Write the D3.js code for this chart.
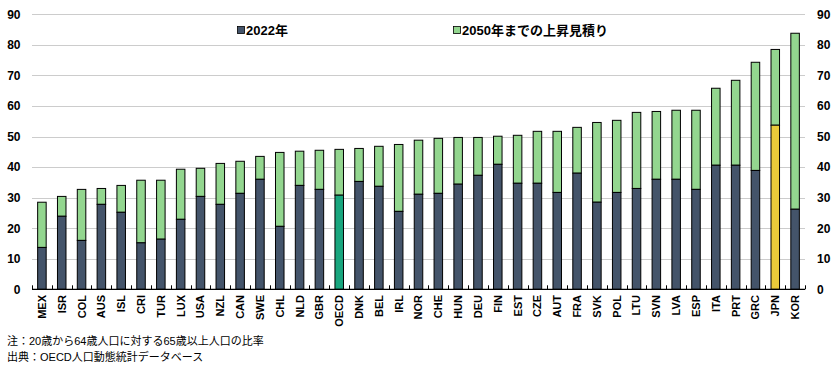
<!DOCTYPE html>
<html>
<head>
<meta charset="utf-8">
<script src="https://cdn.jsdelivr.net/npm/d3@7.9.0/dist/d3.min.js"></script>
<style>
  body { margin: 0; background: #fff; }
  svg text { font-family: "Liberation Sans", Arial, "Noto Sans CJK JP", sans-serif; }
</style>
</head>
<body>
<div id="chart"></div>
<script>
// ── data ──────────────────────────────────────
const countries = ['MEX','ISR','COL','AUS','ISL','CRI','TUR','LUX','USA','NZL',
  'CAN','SWE','CHL','NLD','GBR','OECD','DNK','BEL','IRL','NOR',
  'CHE','HUN','DEU','FIN','EST','CZE','AUT','FRA','SVK','POL',
  'LTU','SVN','LVA','ESP','ITA','PRT','GRC','JPN','KOR'];
const val2022 = [13.7,23.9,16.0,27.8,25.2,15.2,16.4,22.9,30.4,27.8,
  31.4,36.0,20.6,34.0,32.7,30.8,35.3,33.7,25.5,31.1,
  31.4,34.4,37.3,40.9,34.7,34.7,31.7,38.0,28.5,31.7,
  33.0,36.0,36.0,32.7,40.6,40.6,38.9,53.7,26.2];
const riseTo2050 = [14.8,6.5,16.7,5.2,8.8,20.5,19.3,16.4,9.2,13.4,
  10.5,7.5,24.2,11.2,12.8,15.0,10.8,13.1,21.9,17.7,
  18.0,15.3,12.4,9.2,15.7,17.0,20.0,15.0,26.1,23.6,
  24.9,22.2,22.6,25.9,25.2,27.8,35.4,24.8,57.6];
const yTicks = [0,10,20,30,40,50,60,70,80,90];
const seriesNames = ['2022年', '2050年までの上昇見積り'];
const notes = ['注：20歳から64歳人口に対する65歳以上人口の比率',
               '出典：OECD人口動態統計データベース'];

// ── layout ────────────────────────────────────
const W = 839, H = 369;
const plot = { left: 32, right: 805, top: 14.3, bottom: 289.3 };
const colDark = '#44546a', colGreen = '#93d68f';
const colOECD = '#19a67e', colJPN = '#e9ca3a';

const svg = d3.select('#chart').append('svg')
  .attr('width', W).attr('height', H);

const x = d3.scaleBand().domain(countries)
  .range([plot.left, plot.right]).padding(0);
const y = d3.scaleLinear().domain([0, 90])
  .range([plot.bottom, plot.top]);

// gridlines
svg.append('g').selectAll('line')
  .data(yTicks.filter(d => d > 0))
  .join('line')
    .attr('x1', plot.left).attr('x2', plot.right)
    .attr('y1', d => Math.round(y(d)) + 0.5).attr('y2', d => Math.round(y(d)) + 0.5)
    .attr('stroke', '#cccccc').attr('stroke-width', 1);

// y labels left & right
const yLab = svg.append('g')
  .attr('font-size', 12).attr('font-weight', 'bold').attr('fill', '#000');
yLab.selectAll('text.l').data(yTicks).join('text')
  .attr('class', 'l')
  .attr('x', 20.5).attr('y', d => y(d)).attr('dy', '0.36em')
  .attr('text-anchor', 'end').text(d => d);
yLab.selectAll('text.r').data(yTicks).join('text')
  .attr('class', 'r')
  .attr('x', 817).attr('y', d => y(d)).attr('dy', '0.36em')
  .attr('text-anchor', 'start').text(d => d);

// stacked bars
const barW = x.bandwidth() * 0.43;
const rows = countries.map((c, i) => ({ c, base: val2022[i], rise: riseTo2050[i] }));
const baseColor = d => d.c === 'OECD' ? colOECD : d.c === 'JPN' ? colJPN : colDark;

const bars = svg.append('g');
bars.selectAll('rect.rise').data(rows).join('rect')
  .attr('class', 'rise')
  .attr('x', d => x(d.c) + (x.bandwidth() - barW) / 2)
  .attr('width', barW)
  .attr('y', d => y(d.base + d.rise))
  .attr('height', d => y(d.base) - y(d.base + d.rise))
  .attr('fill', colGreen).attr('stroke', '#000').attr('stroke-width', 1);
bars.selectAll('rect.base').data(rows).join('rect')
  .attr('class', 'base')
  .attr('x', d => x(d.c) + (x.bandwidth() - barW) / 2)
  .attr('width', barW)
  .attr('y', d => y(d.base))
  .attr('height', d => y(0) - y(d.base))
  .attr('fill', baseColor).attr('stroke', '#000').attr('stroke-width', 1);

// baseline and category ticks
const bounds = countries.map(c => x(c)).concat([plot.right]);
svg.append('g').selectAll('line').data(bounds).join('line')
  .attr('x1', d => Math.round(d) + 0.5).attr('x2', d => Math.round(d) + 0.5)
  .attr('y1', y(0) - 4).attr('y2', y(0))
  .attr('stroke', '#000').attr('stroke-width', 1);
svg.append('line')
  .attr('x1', plot.left).attr('x2', plot.right)
  .attr('y1', y(0)).attr('y2', y(0))
  .attr('stroke', '#000').attr('stroke-width', 1.3);

// x labels (rotated)
svg.append('g').selectAll('text').data(countries).join('text')
  .attr('transform', d => `translate(${x(d) + x.bandwidth() / 2},295) rotate(-90)`)
  .attr('text-anchor', 'end').attr('dy', '0.36em')
  .attr('font-size', 11).attr('font-weight', 'bold')
  .text(d => d);

// legend
const legend = svg.append('g').attr('font-size', 13).attr('font-weight', 'bold');
const legendItems = [
  { name: seriesNames[0], color: colDark, x: 237 },
  { name: seriesNames[1], color: colGreen, x: 453 }
];
legend.selectAll('rect').data(legendItems).join('rect')
  .attr('x', d => d.x + 0.5).attr('y', 26.5).attr('width', 7).attr('height', 7)
  .attr('fill', d => d.color).attr('stroke', '#000').attr('stroke-width', 0.8);
legend.selectAll('text').data(legendItems).join('text')
  .attr('x', d => d.x + 9).attr('y', 30).attr('dy', '0.36em')
  .style('font-family', '"Liberation Sans", "Noto Sans CJK JP", sans-serif')
  .text(d => d.name);

// notes
svg.append('g').attr('font-size', 11)
  .style('font-family', '"Noto Sans CJK JP", sans-serif')
  .selectAll('text').data(notes).join('text')
    .attr('x', 7).attr('y', (d, i) => 344.5 + i * 16.2)
    .text(d => d);
</script>
</body>
</html>
